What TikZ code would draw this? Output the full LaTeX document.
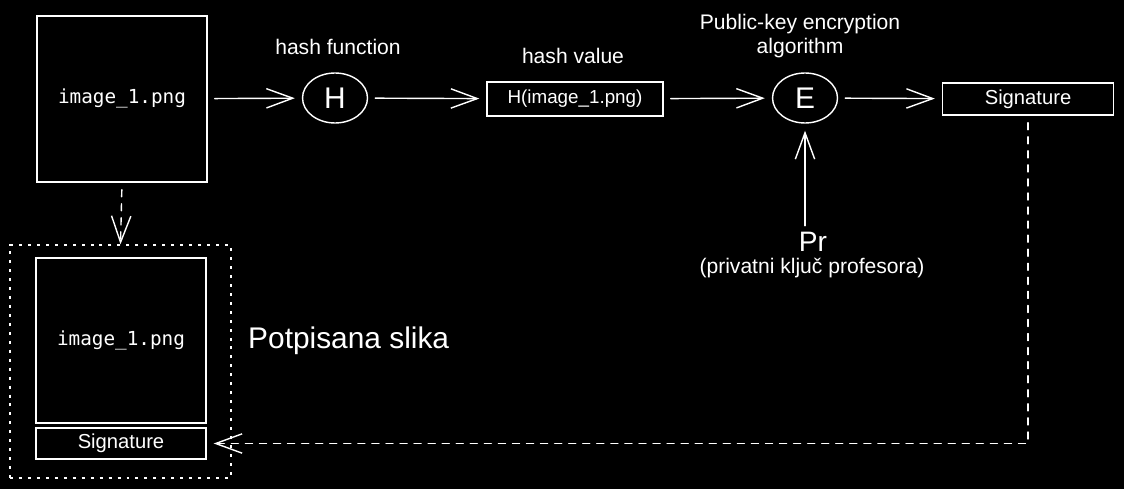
\documentclass[tikz,border=0pt]{standalone}
\usepackage{fontspec}
\setmainfont{Liberation Sans}
\newfontfamily\codefont{DejaVu Sans Mono}
\usetikzlibrary{arrows.meta, shapes.geometric, positioning}

\begin{document}
\begin{tikzpicture}[x=0.02cm, y=-0.02cm, white, line width=0.8pt, line cap=round,
    filebox/.style={draw, minimum width=3.4cm, minimum height=3.32cm, inner sep=0pt,
      font=\codefont\fontsize{11}{13}\selectfont},
    sigbox/.style={draw, minimum width=3.42cm, minimum height=0.64cm, inner sep=0pt,
      font=\fontsize{11.5}{14}\selectfont},
    oval/.style={draw, ellipse, minimum width=1.3cm, minimum height=1cm, inner sep=0pt,
      font=\fontsize{17}{20}\selectfont},
    lbl/.style={font=\fontsize{12}{14}\selectfont, align=center},
    arr/.style={-{Straight Barb[length=15pt,width=11pt]}, shorten <=4pt, shorten >=4pt},
    link/.style={arr, dash pattern=on 4pt off 4pt}]
  % background
  \fill[black] (0,0) rectangle (1124,489);
  % top row
  \node[filebox] (img) at (122,99) {\raisebox{3pt}{image\_1.png}};
  \node[oval] (H) at (335,98) {H};
  \node[sigbox, minimum width=3.52cm, minimum height=0.68cm,
        font=\fontsize{10.7}{13}\selectfont] (hv) at (575,99) {H(image\_1.png)};
  \node[oval] (E) at (805,98) {E};
  \node[sigbox] (sig) at (1028,99) {Signature};
  \node[lbl] (hf) at (338,47) {hash function};
  \node[lbl] (hvl) at (573,56) {hash value};
  \node[lbl] (alg) at (800,36) {Public-key encryption\\algorithm};
  \node[font=\fontsize{16}{18}\selectfont] (pr) at (813,242) {Pr};
  \node[lbl] (prl) at (812,268) {(privatni ključ profesora)};
  % signed image
  \node[draw, dash pattern=on 1.7pt off 3.4pt, minimum width=4.42cm,
        minimum height=4.66cm, line cap=butt] (frame) at (120.5,361.5) {};
  \node[filebox, minimum height=3.3cm] (img2) at (121,340.5) {\raisebox{3pt}{image\_1.png}};
  \node[sigbox, minimum width=3.4cm, minimum height=0.62cm] (sig2) at (121,443.5) {Signature};
  \node[font=\fontsize{17}{20}\selectfont, right=0.2cm of frame.east|-img2] (ps) {Potpisana slika};
  % connectors
  \draw[arr] (img) -- (H);
  \draw[arr] (H) -- (hv);
  \draw[arr] (hv) -- (E);
  \draw[arr] (E) -- (sig);
  \draw[arr, shorten <=0pt] (pr.north -| E) -- (E);
  \draw[link, shorten >=0pt] (img.south) -- (frame.north);
  \draw[link] (sig.south) |- (sig2.east);
\end{tikzpicture}
\end{document}
